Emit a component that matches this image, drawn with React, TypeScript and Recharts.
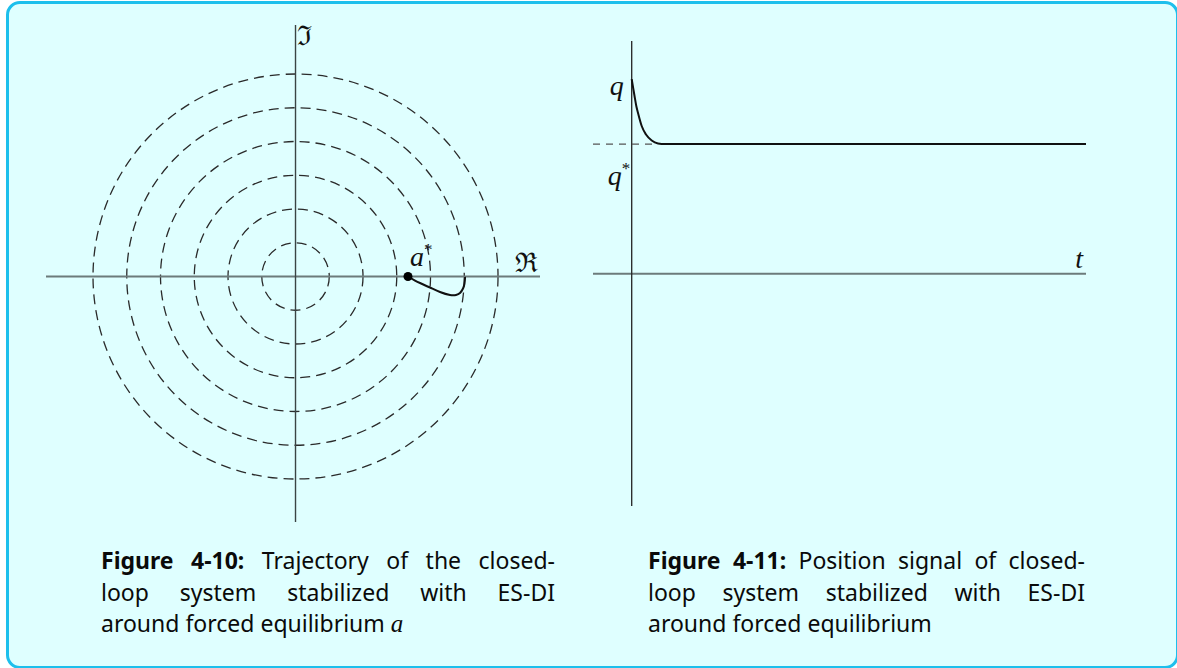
import React from 'react';
import {
  LineChart,
  Line,
  XAxis,
  YAxis,
  ReferenceLine,
  ReferenceArea,
  ReferenceDot,
} from 'recharts';

// ---- Figure 4-10: trajectory in the complex plane ----
// radii of the dashed level circles (plane units)
const ringRadii = [1, 2, 3, 4, 5, 6];
// forced equilibrium a* on the real axis
const equilibriumRe = 3.333;
// closed-loop trajectory (real / imaginary parts)
const trajectoryRe = [3.333, 3.541, 3.689, 3.985, 4.281, 4.578, 4.756, 4.874, 4.963, 5.007, 5.022, 5.022];
const trajectoryIm = [0, -0.119, -0.193, -0.326, -0.459, -0.548, -0.548, -0.489, -0.356, -0.207, -0.059, -0.015];
const planeReDomain = [-7.393, 7.244];
const planeImDomain = [-7.274, 7.452];

// ---- Figure 4-11: position signal ----
const signalTime = [0, 0.029, 0.062, 0.101, 0.145, 0.22, 0.315, 0.441, 0.579, 0.733, 10];
const signalValue = [1.5, 1.439, 1.37, 1.293, 1.231, 1.139, 1.073, 1.027, 1.005, 1.0, 1.0];
const setpointQ = 1;
const setpointGuideEnd = 0.5;
const timeDomain = [-0.852, 10];
const positionDomain = [-1.789, 1.794];

const trajectoryData = trajectoryRe.map((re, i) => ({ x: re, y: trajectoryIm[i] }));
const signalData = signalTime.map((t, i) => ({ x: t, y: signalValue[i] }));
const setpointGuide = [
  { x: timeDomain[0], y: setpointQ },
  { x: setpointGuideEnd, y: setpointQ },
];

const mathFont = '"Liberation Serif", "DejaVu Serif", serif';
const frakFont = '"DejaVu Serif", serif';
const captionFont = '"Noto Sans", "DejaVu Sans", sans-serif';

type LabelProps = { cx?: number; cy?: number };

const mathLabel = (
  text: string,
  dx: number,
  dy: number,
  anchor: 'start' | 'end',
  star = false,
  font = mathFont,
  italic = true,
  size = 28,
) => (p: LabelProps) => (
  <text
    x={(p.cx ?? 0) + dx}
    y={(p.cy ?? 0) + dy}
    textAnchor={anchor}
    fontFamily={font}
    fontStyle={italic ? 'italic' : 'normal'}
    fontSize={size}
    fill="#111"
  >
    {text}
    {star ? (
      <tspan fontSize={17} fontStyle="normal" dy={-11}>
        *
      </tspan>
    ) : null}
  </text>
);

const ringShape = (p: any) => (
  <ellipse
    cx={p.x + p.width / 2}
    cy={p.y + p.height / 2}
    rx={Math.abs(p.width) / 2}
    ry={Math.abs(p.height) / 2}
    fill="none"
    stroke="#2a2a2a"
    strokeWidth={1.3}
    strokeDasharray="10 6"
  />
);

function PlaneChart() {
  return (
    <LineChart
      width={534}
      height={537}
      margin={{ top: 20, right: 20, bottom: 20, left: 20 }}
      style={{ position: 'absolute', left: 26, top: 5 }}
    >
      <XAxis type="number" dataKey="x" domain={planeReDomain} allowDataOverflow hide />
      <YAxis type="number" dataKey="y" domain={planeImDomain} allowDataOverflow hide />
      {ringRadii.map((r) => (
        <ReferenceArea
          key={r}
          x1={-r}
          x2={r}
          y1={-r}
          y2={r}
          ifOverflow="visible"
          shape={ringShape}
        />
      ))}
      <ReferenceLine y={0} stroke="#6c7b7b" strokeWidth={2} />
      <ReferenceLine x={0} stroke="#3a4444" strokeWidth={1.4} />
      <Line
        data={trajectoryData}
        dataKey="y"
        type="natural"
        stroke="#111"
        strokeWidth={2}
        dot={false}
        isAnimationActive={false}
      />
      <ReferenceDot x={equilibriumRe} y={0} r={4.5} fill="#000" stroke="none" />
      <ReferenceDot
        x={equilibriumRe}
        y={0}
        r={0}
        shape={mathLabel('a', 2, -11, 'start', true)}
      />
      <ReferenceDot
        x={planeReDomain[1]}
        y={0}
        r={0}
        shape={mathLabel('ℜ', -2, -5, 'end', false, frakFont, false, 27)}
      />
      <ReferenceDot
        x={0}
        y={planeImDomain[1]}
        r={0}
        shape={mathLabel('ℑ', 1, 20, 'start', false, frakFont, false, 27)}
      />
    </LineChart>
  );
}

function SignalChart() {
  return (
    <LineChart
      width={533}
      height={505}
      margin={{ top: 20, right: 20, bottom: 20, left: 20 }}
      style={{ position: 'absolute', left: 573, top: 21 }}
    >
      <XAxis type="number" dataKey="x" domain={timeDomain} allowDataOverflow hide />
      <YAxis type="number" dataKey="y" domain={positionDomain} allowDataOverflow hide />
      <ReferenceLine y={0} stroke="#6c7b7b" strokeWidth={2} />
      <ReferenceLine x={0} stroke="#222" strokeWidth={1.3} />
      <Line
        data={setpointGuide}
        dataKey="y"
        type="linear"
        stroke="#555"
        strokeWidth={1.3}
        strokeDasharray="7 6"
        dot={false}
        isAnimationActive={false}
      />
      <Line
        data={signalData}
        dataKey="y"
        type="monotone"
        stroke="#111"
        strokeWidth={2}
        dot={false}
        isAnimationActive={false}
      />
      <ReferenceDot x={0} y={signalValue[0]} r={0} shape={mathLabel('q', -8, 16, 'end')} />
      <ReferenceDot x={0} y={setpointQ} r={0} shape={mathLabel('q', -24, 41, 'start', true)} />
      <ReferenceDot x={timeDomain[1]} y={0} r={0} shape={mathLabel('t', -3, -6, 'end')} />
    </LineChart>
  );
}

const lineStyle = (left: number, top: number, width: number, justify: boolean): React.CSSProperties => ({
  position: 'absolute',
  left,
  top,
  width,
  fontFamily: captionFont,
  fontSize: 23,
  lineHeight: '30px',
  color: '#0a0a0a',
  whiteSpace: 'normal',
  textAlign: justify ? 'justify' : 'left',
  textAlignLast: justify ? 'justify' : 'left',
});

function Caption({ left, width, number, first, last }: { left: number; width: number; number: string; first: string; last: React.ReactNode }) {
  return (
    <>
      <div style={lineStyle(left, 545, width, true)}>
        <b>Figure {number}:</b> {first}
      </div>
      <div style={lineStyle(left, 577, width, true)}>loop system stabilized with ES-DI</div>
      <div style={lineStyle(left, 608, width, false)}>{last}</div>
    </>
  );
}

export default function App() {
  return (
    <div
      style={{
        position: 'absolute',
        left: 6,
        top: 1,
        width: 1173,
        height: 668,
        boxSizing: 'border-box',
        border: '3px solid #1dbfec',
        borderRadius: 14,
        background: '#dfffff',
      }}
    >
      <div style={{ position: 'absolute', left: -9, top: -4, width: 1177, height: 668 }}>
        <PlaneChart />
        <SignalChart />
        <Caption
          left={101}
          width={454}
          number="4-10"
          first="Trajectory of the closed-"
          last={
            <>
              around forced equilibrium{' '}
              <span style={{ fontFamily: mathFont, fontStyle: 'italic', fontSize: 25 }}>a</span>
            </>
          }
        />
        <Caption
          left={648}
          width={437}
          number="4-11"
          first="Position signal of closed-"
          last="around forced equilibrium"
        />
      </div>
    </div>
  );
}
